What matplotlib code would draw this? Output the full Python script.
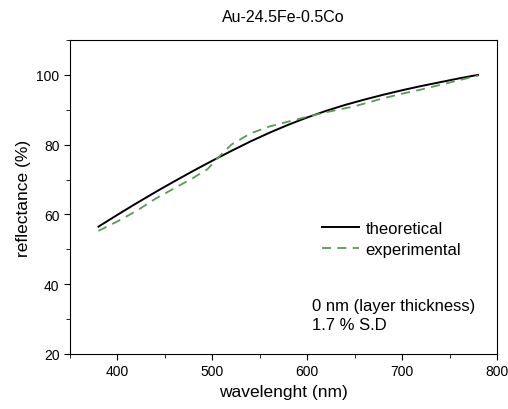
import numpy as np
import matplotlib.pyplot as plt
from matplotlib.ticker import MultipleLocator

plt.rcParams['font.family'] = ['Liberation Sans', 'DejaVu Sans']

wl_theo = [380, 400, 420, 440, 460, 480, 500, 520, 540, 560, 580, 600, 620, 640, 660, 680, 700, 720, 740, 760, 780]
r_theo = [56.5, 59.9, 63.2, 66.4, 69.5, 72.5, 75.4, 78.2, 80.9, 83.4, 85.7, 87.8, 89.7, 91.4,
          92.9, 94.3, 95.6, 96.8, 97.9, 99.0, 100.0]

wl_exp = [380, 400, 420, 440, 460, 480, 495, 505, 520, 540, 560, 580, 600, 620, 650, 680, 700, 720, 750, 780]
r_exp = [55.3, 58.0, 61.0, 64.5, 67.5, 70.5, 73.0, 76.0, 80.0, 83.2, 85.2, 86.6, 88.0, 89.3, 91.0, 93.3, 94.6, 95.8, 97.8, 99.8]

fig = plt.figure(figsize=(5.08, 4.1), dpi=100)
ax = fig.add_axes([70/508, 1-355/410, 427/508, 314/410])

ax.plot(wl_theo, r_theo, color='black', lw=1.4, label='theoretical')
ax.plot(wl_exp, r_exp, color='#5a9a5a', lw=1.3, ls=(0, (5, 3.5)), label='experimental')

ax.set_xlim(350, 800)
ax.set_ylim(20, 110)
ax.xaxis.set_major_locator(MultipleLocator(100))
ax.xaxis.set_minor_locator(MultipleLocator(50))
ax.yaxis.set_major_locator(MultipleLocator(20))
ax.yaxis.set_minor_locator(MultipleLocator(10))
ax.tick_params(which='both', direction='out', labelsize=10)
ax.tick_params(which='major', length=4)
ax.tick_params(which='minor', length=3)

ax.set_title('Au-24.5Fe-0.5Co', fontsize=11.5, pad=14)
ax.set_xlabel('wavelenght (nm)', fontsize=12.5)
ax.set_ylabel('reflectance (%)', fontsize=12.5)

ax.legend(loc='upper left', bbox_to_anchor=(0.59, 0.424), frameon=False, borderaxespad=0,
          borderpad=0, fontsize=12, handlelength=2.2, handletextpad=0.4, labelspacing=0.35)
ax.text(0.567, 0.07, '0 nm (layer thickness)\n1.7 % S.D', transform=ax.transAxes,
        fontsize=12, linespacing=1.3, va='bottom')

fig.savefig('out.png', dpi=100)
